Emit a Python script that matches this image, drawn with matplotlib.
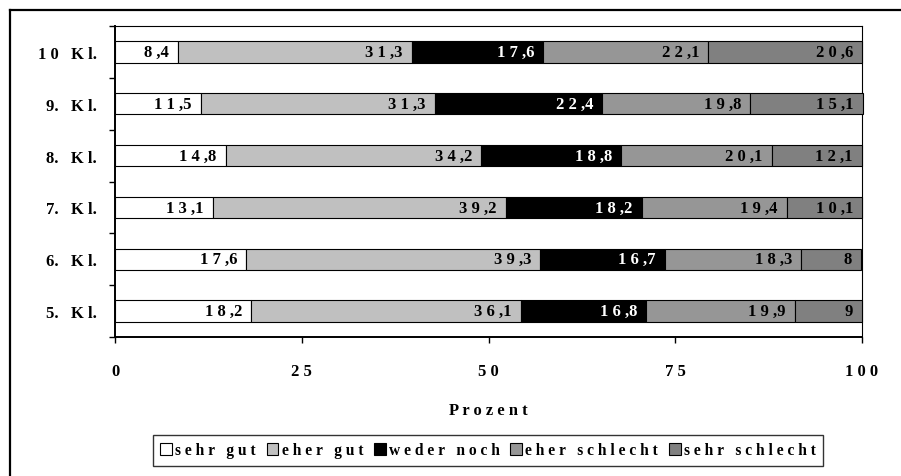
import matplotlib
matplotlib.use("Agg")
import matplotlib.pyplot as plt
from matplotlib.patches import Patch
from matplotlib.lines import Line2D
import numpy as np

# ---- data -------------------------------------------------------------
classes = ["10 Kl.", "9. Kl.", "8. Kl.", "7. Kl.", "6. Kl.", "5. Kl."]
sehr_gut = [8.4, 11.5, 14.8, 13.1, 17.6, 18.2]
eher_gut = [31.3, 31.3, 34.2, 39.2, 39.3, 36.1]
weder_noch = [17.6, 22.4, 18.8, 18.2, 16.7, 16.8]
eher_schlecht = [22.1, 19.8, 20.1, 19.4, 18.3, 19.9]
sehr_schlecht = [20.6, 15.1, 12.1, 10.1, 8, 9]
series_names = ["sehr gut", "eher gut", "weder noch", "eher schlecht", "sehr schlecht"]
x_ticks = [0, 25, 50, 75, 100]
x_label = "Prozent"

series = [sehr_gut, eher_gut, weder_noch, eher_schlecht, sehr_schlecht]
colors = ["#FFFFFF", "#C0C0C0", "#000000", "#969696", "#808080"]
text_colors = ["black", "black", "white", "black", "black"]

FONT = "Liberation Serif"
FS = 12
FS_LEG = 11.2


def spaced(s):
    """Widen text by putting a space between characters."""
    out = ""
    for i, ch in enumerate(s):
        out += ch
        if i < len(s) - 1:
            nxt = s[i + 1]
            if ch == "," or nxt == ".":
                continue
            out += " "
    return out


def fmt(v):
    return f"{v:g}".replace(".", ",")


W, H = 901, 477
fig = plt.figure(figsize=(W / 100, H / 100), dpi=100)
fig.patch.set_facecolor("white")

ax = fig.add_axes([115 / W, 1 - 338 / H, (862 - 115) / W, (338 - 27) / H])

n = len(classes)
y = np.arange(n)[::-1]  # top row first
left = np.zeros(n)
for vals, col, tcol in zip(series, colors, text_colors):
    vals = np.array(vals, dtype=float)
    ax.barh(y, vals, left=left, height=0.41, color=col,
            edgecolor="black", linewidth=0.8, clip_on=False, zorder=3)
    for yi, l, v in zip(y, left, vals):
        ax.annotate(spaced(fmt(v)), xy=(l + v, yi), xytext=(-6.5, 0),
                    textcoords="offset points", ha="right", va="center",
                    fontfamily=FONT, fontweight="bold", fontsize=FS,
                    color=tcol, zorder=4, annotation_clip=False)
    left = left + vals

ax.set_xlim(0, 100)
ax.set_ylim(-0.5, n - 0.5)

# y axis: category labels centred on bars, tick marks on the boundaries
ax.set_yticks(y)
ax.set_yticklabels([spaced(c) for c in classes], fontfamily=FONT,
                   fontweight="bold", fontsize=FS)
ax.tick_params(axis="y", which="major", length=0, pad=13)
ax.set_yticks(np.arange(-0.5, n, 1.0), minor=True)
ax.tick_params(axis="y", which="minor", length=4.5, width=1.0,
               direction="out", color="black")

ax.set_xticks(x_ticks)
ax.set_xticklabels([spaced(str(t)) for t in x_ticks], fontfamily=FONT,
                   fontweight="bold", fontsize=FS)
ax.tick_params(axis="x", which="major", length=4.5, width=1.0,
               direction="out", pad=14)
ax.set_xlabel(spaced(x_label), fontfamily=FONT, fontweight="bold",
              fontsize=FS, labelpad=17)

for side in ["left", "bottom"]:
    ax.spines[side].set_linewidth(1.4)
for side in ["top", "right"]:
    ax.spines[side].set_linewidth(0.8)

# legend
handles = [Patch(facecolor=c, edgecolor="black", linewidth=0.8) for c in colors]
leg = fig.legend(handles, [spaced(s) for s in series_names], loc="center",
                 bbox_to_anchor=(488 / W, 1 - 451.5 / H), ncol=5,
                 frameon=True, fancybox=False, edgecolor="black",
                 prop={"family": FONT, "weight": "bold", "size": FS_LEG},
                 handlelength=0.75, handleheight=0.75, handletextpad=0.2,
                 columnspacing=0.7, borderpad=0.5, borderaxespad=0)
leg.get_frame().set_linewidth(1.0)

# outer chart frame (top and left edges)
fx, fy = 10 / W, 1 - 11 / H
fig.add_artist(Line2D([fx, fx], [0, fy], transform=fig.transFigure,
                      color="black", linewidth=1.6))
fig.add_artist(Line2D([fx, 1.0], [fy, fy], transform=fig.transFigure,
                      color="black", linewidth=1.6))

fig.savefig("out.png", dpi=100, facecolor="white")
